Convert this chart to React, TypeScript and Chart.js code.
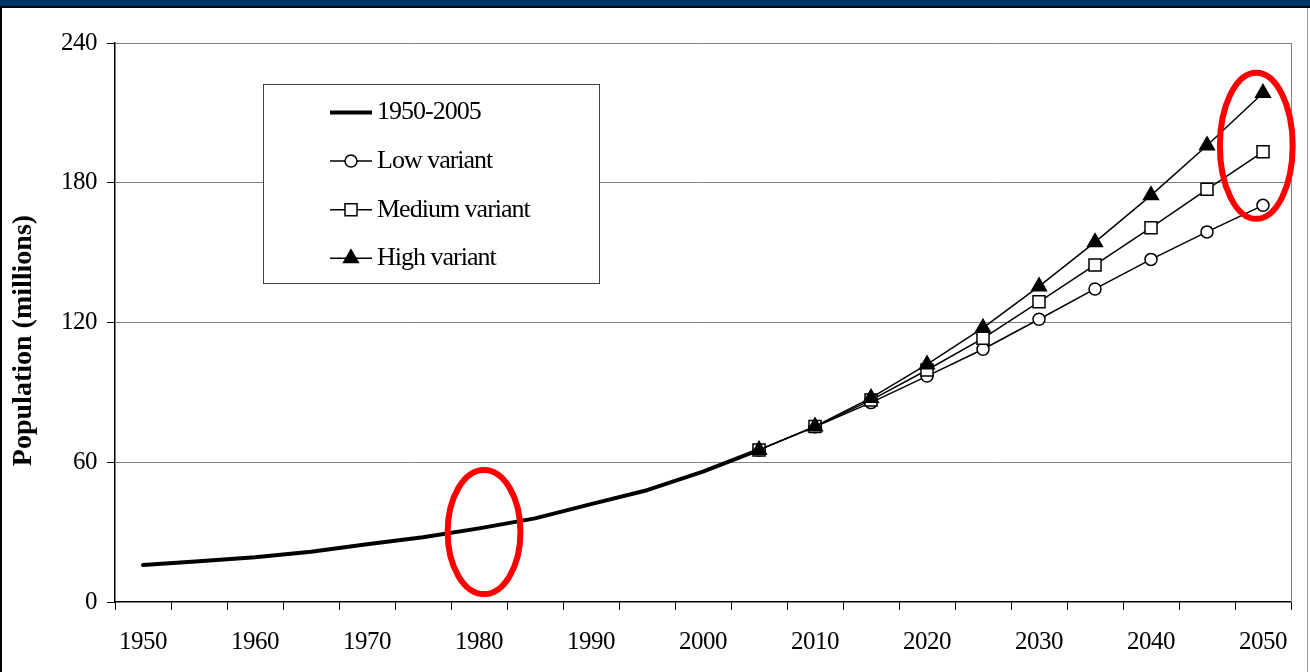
import React, { useEffect, useRef } from 'react';
import { Chart, registerables } from 'chart.js';
import { drawPoint } from 'chart.js/helpers';

Chart.register(...registerables);

// ---- Data ----
const years = [
  '1950', '1955', '1960', '1965', '1970', '1975', '1980', '1985', '1990', '1995', '2000',
  '2005', '2010', '2015', '2020', '2025', '2030', '2035', '2040', '2045', '2050',
];
const observed = [
  15.9, 17.5, 19.2, 21.6, 24.8, 27.8, 31.6, 35.9, 42.0, 48.0, 56.0, 65.3,
  null, null, null, null, null, null, null, null, null,
];
const lowVariant = [
  null, null, null, null, null, null, null, null, null, null, null,
  65.3, 75.2, 85.6, 97.0, 108.5, 121.4, 134.4, 147.1, 158.9, 170.3,
];
const mediumVariant = [
  null, null, null, null, null, null, null, null, null, null, null,
  65.3, 75.3, 86.7, 99.6, 113.2, 128.9, 144.7, 160.7, 177.2, 193.3,
];
const highVariant = [
  null, null, null, null, null, null, null, null, null, null, null,
  65.3, 75.4, 87.6, 102.0, 117.7, 135.5, 154.5, 174.6, 196.0, 218.5,
];
const yTicks = [0, 60, 120, 180, 240];
const seriesLabels = ['1950-2005', 'Low variant', 'Medium variant', 'High variant'];
const yTitle = 'Population (millions)';

// highlighted regions (red ellipses): year and value range
const highlightYears = ['1980', '2050'];
const highlightLow = [3.4, 164.5];
const highlightHigh = [56.7, 227.2];

const FONT = "'Liberation Serif', 'Times New Roman', serif";

const frameStyle = {
  ellipseShift: [0.09, -0.12],
  ellipseRx: 0.65,
};

const decorPlugin = {
  id: 'decor',
  beforeDraw(chart: any) {
    // tight letter spacing like the original picture
    chart.ctx.letterSpacing = '-0.5px';
  },
  beforeDatasetsDraw(chart: any) {
    const { ctx, chartArea } = chart;
    ctx.save();
    // right plot border
    ctx.strokeStyle = '#808080';
    ctx.lineWidth = 1;
    ctx.beginPath();
    ctx.moveTo(Math.round(chartArea.right) + 0.5, chartArea.top);
    ctx.lineTo(Math.round(chartArea.right) + 0.5, chartArea.bottom);
    ctx.stroke();

    // boxed legend
    const x0 = Math.round(chartArea.left + 148);
    const y0 = Math.round(chartArea.top + 41);
    const w = 336;
    const h = 199;
    ctx.fillStyle = '#ffffff';
    ctx.fillRect(x0, y0, w, h);
    ctx.strokeStyle = '#404040';
    ctx.lineWidth = 1;
    ctx.strokeRect(x0 + 0.5, y0 + 0.5, w, h);
    chart.data.datasets.forEach((ds: any, i: number) => {
      const cy = y0 + 28.5 + i * 48.6;
      const lx0 = x0 + 67;
      const lx1 = x0 + 109;
      ctx.strokeStyle = ds.borderColor;
      ctx.lineWidth = ds.borderWidth;
      ctx.beginPath();
      ctx.moveTo(lx0, cy);
      ctx.lineTo(lx1, cy);
      ctx.stroke();
      if (ds.pointRadius > 0) {
        ctx.fillStyle = ds.pointBackgroundColor;
        ctx.strokeStyle = ds.pointBorderColor;
        ctx.lineWidth = ds.pointBorderWidth;
        drawPoint(ctx, {
          pointStyle: ds.pointStyle,
          rotation: 0,
          radius: ds.pointRadius,
          borderWidth: ds.pointBorderWidth,
        } as any, (lx0 + lx1) / 2, cy);
      }
      ctx.fillStyle = '#000';
      ctx.font = `26px ${FONT}`;
      ctx.letterSpacing = '-1px';
      ctx.textAlign = 'left';
      ctx.textBaseline = 'middle';
      ctx.fillText(ds.label, x0 + 114, cy);
    });

    // y-axis title
    ctx.save();
    ctx.translate(chartArea.left - 91, (chartArea.top + chartArea.bottom) / 2 + 18);
    ctx.rotate(-Math.PI / 2);
    ctx.fillStyle = '#000';
    ctx.font = `bold 28px ${FONT}`;
    ctx.letterSpacing = '0px';
    ctx.textAlign = 'center';
    ctx.textBaseline = 'middle';
    ctx.fillText(yTitle, 0, 0);
    ctx.restore();
    ctx.restore();
  },
  afterDatasetsDraw(chart: any) {
    const { ctx } = chart;
    const xs = chart.scales.x;
    const ys = chart.scales.y;
    const cat = xs.width / years.length;
    ctx.save();
    ctx.strokeStyle = '#ff0000';
    ctx.lineWidth = 6;
    highlightYears.forEach((yr, i) => {
      const cx = xs.getPixelForValue(years.indexOf(yr)) + frameStyle.ellipseShift[i] * cat;
      const yLo = ys.getPixelForValue(highlightLow[i]);
      const yHi = ys.getPixelForValue(highlightHigh[i]);
      ctx.beginPath();
      ctx.ellipse(cx, (yLo + yHi) / 2, frameStyle.ellipseRx * cat, (yLo - yHi) / 2, 0, 0, Math.PI * 2);
      ctx.stroke();
    });
    ctx.restore();
  },
};

export default function App() {
  const ref = useRef<HTMLCanvasElement>(null);

  useEffect(() => {
    document.body.style.margin = '0';
    const variantBase = {
      borderColor: '#000000',
      borderWidth: 1.5,
      pointBorderColor: '#000000',
      pointBorderWidth: 1.5,
      spanGaps: false,
    };
    const chart = new Chart(ref.current as HTMLCanvasElement, {
      type: 'line',
      data: {
        labels: years,
        datasets: [
          {
            label: seriesLabels[0],
            data: observed,
            borderColor: '#000000',
            borderWidth: 4,
            pointRadius: 0,
            borderCapStyle: 'round',
            borderJoinStyle: 'round',
            order: 4,
          } as any,
          {
            ...variantBase,
            label: seriesLabels[1],
            data: lowVariant,
            pointStyle: 'circle',
            pointRadius: 6,
            pointBackgroundColor: '#ffffff',
            order: 2,
          },
          {
            ...variantBase,
            label: seriesLabels[2],
            data: mediumVariant,
            pointStyle: 'rect',
            pointRadius: 8.5,
            pointBackgroundColor: '#ffffff',
            order: 1,
          },
          {
            ...variantBase,
            label: seriesLabels[3],
            data: highVariant,
            pointStyle: 'triangle',
            pointRadius: 8.5,
            pointBackgroundColor: '#000000',
            order: 0,
          },
        ],
      },
      options: {
        responsive: false,
        animation: false,
        devicePixelRatio: 1,
        layout: { padding: { left: 0, top: 43, right: 19, bottom: 0 } },
        elements: { line: { tension: 0 } },
        plugins: {
          legend: { display: false },
          tooltip: { enabled: false },
          title: { display: false },
        },
        scales: {
          x: {
            type: 'category',
            offset: true,
            grid: {
              offset: true,
              drawOnChartArea: false,
              drawTicks: true,
              tickLength: 8,
              tickColor: '#000000',
              tickWidth: 1,
            },
            border: { color: '#000000', width: 1.5 },
            ticks: {
              autoSkip: false,
              maxRotation: 0,
              minRotation: 0,
              color: '#000000',
              padding: 17,
              font: { family: FONT, size: 25 },
              callback: (_v: any, i: number) => (i % 2 === 0 ? years[i] : ''),
            },
            afterFit: (s: any) => {
              s.height = 70;
            },
          },
          y: {
            min: yTicks[0],
            max: yTicks[yTicks.length - 1],
            afterBuildTicks: (s: any) => {
              s.ticks = yTicks.map((v) => ({ value: v }));
            },
            grid: {
              color: (c: any) => (c.tick && c.tick.value === 0 ? 'rgba(0,0,0,0)' : '#808080'),
              lineWidth: 1,
              drawTicks: true,
              tickLength: 8,
              tickColor: '#000000',
              tickWidth: 1,
            },
            border: { color: '#000000', width: 1.5 },
            ticks: {
              color: '#000000',
              padding: 10,
              font: { family: FONT, size: 25 },
            },
            afterFit: (s: any) => {
              s.width = 115;
            },
          },
        },
      },
      plugins: [decorPlugin],
    } as any);
    return () => chart.destroy();
  }, []);

  return (
    <div style={{ position: 'relative', width: 1310, height: 672, background: '#ffffff', overflow: 'hidden' }}>
      <canvas
        ref={ref}
        width={1310}
        height={672}
        style={{ position: 'absolute', left: 0, top: 0, width: 1310, height: 672 }}
      />
      <div style={{ position: 'absolute', left: 0, top: 0, width: 1310, height: 6, background: '#003366' }} />
      <div style={{ position: 'absolute', left: 0, top: 6, width: 1310, height: 2, background: '#0a0a14' }} />
      <div style={{ position: 'absolute', left: 0, top: 8, width: 2, height: 664, background: '#000000' }} />
      <div style={{ position: 'absolute', left: 1307, top: 8, width: 1, height: 664, background: '#999999' }} />
    </div>
  );
}
